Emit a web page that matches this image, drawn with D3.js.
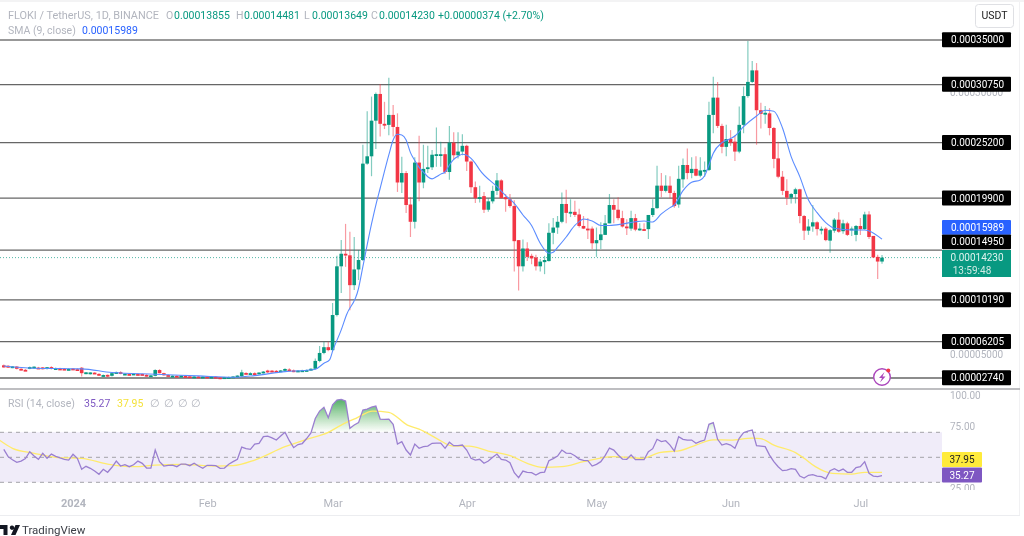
<!DOCTYPE html>
<html><head><meta charset="utf-8">
<style>
html,body{margin:0;padding:0;background:#fff;overflow:hidden}
svg{display:block;filter:blur(.35px)}
text{font-family:Roboto,"Liberation Sans",sans-serif}
</style>
<script src="https://cdn.jsdelivr.net/npm/d3@7/dist/d3.min.js"></script>
</head><body><svg id="c" width="1024" height="536"></svg>
<script>
// prices are in units of 0.00001
const opens=[3.95,3.9,3.72,3.83,3.62,3.52,3.62,3.68,3.73,3.75,
3.6,3.78,3.65,3.64,3.62,3.55,3.64,3.58,3.72,3.16,
3.15,3.25,3.13,2.95,3.04,2.95,3.18,3.3,3.13,3.12,
3.1,3.12,3.12,3.04,2.94,2.95,3.5,3.2,3.02,2.93,
2.95,2.86,2.93,2.9,2.86,2.88,2.83,2.87,2.82,2.86,
2.8,2.72,2.81,2.83,2.84,2.9,3.22,3.13,3.2,3.14,
3.2,3.45,3.44,3.42,3.38,3.45,3.55,3.47,3.42,3.45,
3.47,3.5,3.62,4.37,5.13,5.68,5.4,8.75,13.4,14.6,
14.45,11.6,13.1,14,23.2,23.9,27.3,29.85,27,26.9,
27.85,26.7,21.4,22.3,19.3,17.65,23.3,21.4,22.7,22.85,
24,24.05,24.1,22.4,25.2,24,24.35,24.9,23.4,20.95,
19.95,20.1,18.8,19.6,20.6,21.6,20,19.8,19.15,15.9,
13.4,15.1,14.4,14.25,13.4,13.8,13.9,16.6,17.1,17.65,
19.35,18.5,18.6,18.35,17.25,17,17,15.6,15.9,16.4,
17.5,19.25,18.8,18,17.2,17,18,16.95,16.95,16.95,
18.3,18.95,21.1,20.6,21.1,20.4,19.3,21.7,23.07,22.3,
22.7,22.05,22.55,22.6,27.85,29.5,26.8,24.8,25.55,25.3,
24.35,26.9,29.65,31,32.1,28.3,27.95,28,26.6,23.7,
21.95,20.6,19.95,20.3,20.75,18.2,16.8,17.2,17.6,16.95,
17,15.85,16.8,17.85,16.75,17.5,16.9,16.4,17.25,16.95,
18.35,16.3,14.3,13.855];
const highs=[4.02,3.98,3.88,3.88,3.68,3.6,3.84,3.86,3.8,3.8,
3.8,3.85,3.75,3.72,3.7,3.68,3.7,3.68,3.78,3.32,
3.3,3.3,3.2,3.08,3.08,3.26,3.35,3.38,3.2,3.2,
3.2,3.2,3.18,3.1,3.02,3.58,3.58,3.25,3.08,3,
3,3,2.98,2.96,2.92,2.92,2.9,2.92,2.9,2.9,
2.84,2.84,2.88,2.92,3,3.52,3.3,3.28,3.28,3.3,
3.42,3.52,3.5,3.5,3.5,3.66,3.66,3.56,3.5,3.52,
3.55,3.68,4.6,5.8,6.2,6.2,9.9,14.4,15.9,17.45,
16.7,16.2,14.96,25,28.2,29.6,30,30.8,29.1,31.4,
28.8,28,23.85,22.5,20,23.8,25.85,25,24.9,24.5,
26.65,25.3,24.75,26.8,26.2,26.2,26,25,23.5,21.5,
21.1,20.5,19.9,21.1,22.3,21.7,20.3,20.3,19.7,15.9,
15.95,15.7,14.6,14.5,14.1,14.4,17.5,18,18.2,20.45,
20.7,19.8,19.65,18.9,18.2,18,17.2,17.1,17.6,18.3,
20.3,19.8,20,18.7,17.9,18.7,18.4,17.5,17.5,18.3,
19.8,23,22.3,22.1,22,20.6,23,23.7,24.65,23.8,
23.9,23.8,23.4,29.1,31.5,31,27,26.9,26.4,25.9,
28.65,30.55,34.9,33,32.8,29,28.7,28.5,26.7,25.3,
22.5,21.7,20.4,20.9,20.8,18.3,17.9,19.25,17.7,17.2,
17.15,16.95,18,18.55,17.85,17.65,17.2,17.35,18,18.6,
18.65,16.3,14.5,14.481];
const lows=[3.72,3.7,3.68,3.55,3.45,3.45,3.58,3.64,3.6,3.56,
3.55,3.55,3.55,3.52,3.5,3.48,3.5,3.5,2.88,3.1,
3.08,3.12,2.93,2.85,2.82,2.88,3.12,3.1,3.05,3.02,
3.03,3.02,3,2.88,2.88,2.9,3.18,2.96,2.9,2.86,
2.86,2.82,2.84,2.8,2.8,2.78,2.78,2.78,2.76,2.76,
2.62,2.68,2.74,2.78,2.8,2.86,3.05,3.06,3.08,3.08,
3.16,3.22,3.3,3.28,3.36,3.4,3.38,3.3,3.36,3.38,
3.38,3.42,3.55,4.25,5,5.3,5.3,8.6,10.85,13.35,
9.2,11.15,12.1,13.9,23.1,22,24.6,25.8,26.5,25.9,
25.8,20.5,20.4,18.5,16.2,17,19.6,20.85,22.3,22.6,
22.9,22.9,22.2,21.65,23.6,23.7,24,22.5,20.4,19.45,
19.5,18.5,18.6,19.4,20.2,19.9,18.6,19,12.9,11.1,
12.9,13.9,13.6,13,12.9,12.65,13.85,15.5,16.5,17.5,
17.5,18.1,18.1,17.1,16.95,16,15.05,14.3,15.05,16.4,
17.5,17.5,17.8,17.1,16.4,16.8,16.75,16.8,16.8,16,
18.1,18.9,20,20.45,19.9,19,19,20.9,21.7,21.8,
22,21.9,21.95,22.5,26.1,26.6,24.2,23.9,24.9,23.45,
24.2,26.1,29.5,30.9,25,26.55,27,25.9,22.75,21.8,
20.2,19.25,19.4,19.4,17.5,15.9,16.4,16.7,16.35,16.45,
15.8,14.7,16.6,16.6,16.5,16.3,16.3,15.8,16.4,16.9,
16,14.2,12.2,13.649];
const closes=[3.75,3.75,3.85,3.62,3.52,3.5,3.78,3.82,3.63,3.58,
3.77,3.6,3.68,3.6,3.52,3.6,3.54,3.53,3.2,3.28,
3.27,3.2,2.97,3.02,2.9,3.2,3.3,3.14,3.15,3.1,
3.16,3.1,3.03,2.92,2.99,3.5,3.2,3,2.92,2.96,
2.91,2.97,2.9,2.86,2.88,2.83,2.87,2.82,2.86,2.8,
2.72,2.81,2.83,2.88,2.97,3.28,3.12,3.2,3.12,3.26,
3.35,3.28,3.35,3.33,3.46,3.6,3.45,3.35,3.45,3.47,
3.5,3.62,4.37,5.13,5.68,5.4,8.75,13.4,14.6,14.45,
11.6,13.1,14,23.2,23.9,27.3,29.85,27,26.9,27.85,
26.7,21.4,22.3,19.25,17.65,23.3,21.4,22.7,22.85,24.05,
24.1,24.1,22.4,25.2,24,24.35,24.9,23.4,20.95,19.9,
20,18.8,19.6,20.6,21.6,19.9,19.8,19.15,15.8,13.4,
15.1,14.3,14.15,13.4,13.85,14,16.6,17.1,17.65,19.35,
18.5,18.6,18.3,17.25,17,16.85,15.6,15.9,16.45,17.5,
19.25,18.8,18,17.2,17.05,18,16.9,17,16.9,18.3,
18.95,21.1,20.6,21.1,20.4,19.15,21.75,23.07,22.3,22.7,
22.05,22.55,22.6,27.85,29.5,26.8,24.8,25.55,25.2,24.35,
26.9,29.65,31,32.1,28.3,27.95,28.05,26.6,23.65,21.95,
20.6,19.95,20.3,20.75,18.2,16.8,17.2,17.6,16.95,16.98,
15.9,16.85,17.85,16.7,17.5,16.4,17,17.25,16.95,18.35,
16.2,14.25,13.855,14.23];

const smaIdx=[0,7,18,25,35,45,53,58,65,70,72,74,75.3,76.1,78,79.2,82,83,85,86,87,89,90,91,92,93,94,95,96,97,98,99,100,101,102,103,104,105,106,107,108,109,110,114,116,118,120,122,124,126,127,128,130,132,133,134,136,138,140,143,146,148,150,152,154,155,157,159,161,162,163,164,166,168,169,171,174,176,178,180,182,184,186,188,190,192,196,199,200,203];
const smaVal=[3.89,3.67,3.61,3.26,3.1,2.94,2.81,2.97,3.35,3.48,3.58,4.15,4.47,5.42,7.33,8.75,11.3,13.37,17.44,19.25,20.85,24.03,25.46,26,25.93,25.46,24.25,23.5,22.85,22.4,21.95,21.75,21.95,22.2,22.4,23.07,23.6,23.9,24.1,24,23.7,23.23,22.6,21,20.15,19.4,18.3,17.3,15.6,14.64,14.74,15.2,16.2,17.3,17.66,17.92,17.73,17.3,17.3,17.44,17.66,17.73,17.63,18.4,19,19.25,20.62,21.42,21.64,22.05,23.07,24.2,25.2,25.6,25.84,26.73,27.75,28.29,28.2,26.6,23.87,21.96,19.73,18.52,17.57,17.03,16.87,16.87,16.77,15.989];

const rsiVal=[56.4,50.5,48,46,47,49,54.5,51,48.4,53.2,49.2,52.6,50.8,49.5,48.4,47.8,52.4,49.2,40.4,42.8,41.2,39,36.4,40.4,38,42,47,43,44.1,42.5,44,47,45.2,41.4,41.4,55.8,46.5,43,43.5,43.8,42.5,44.6,44.6,43.3,45.2,43,41.2,43.6,43.6,43.3,41.2,41.4,44.5,46.5,48.4,58.2,57,56.4,60.6,61.1,66.5,67,65.5,63.8,67,70,63.3,57.7,60.2,61,65,69.5,81,87,90,81.7,92,95.8,96.4,95,73.2,75.8,77.7,87.8,88.6,90.2,91,80.6,80.4,80.6,76.4,60.6,62.5,55.8,51.8,60.6,57.2,58.5,59,61.2,61.4,61.4,57.2,62,59.3,59.3,59.8,55.8,49.2,47.8,48.4,45.2,47,50,52.6,48.4,47.8,45.7,37.7,33.7,39,38,37.7,35.8,37.7,38.2,47.3,48.9,51,55.8,53.4,53.2,51.3,48.6,47.6,47.3,43,44.4,46.5,51.3,57.4,55.8,51.8,48.6,48.4,51.8,48.1,48.1,48.1,54.5,56.9,64.4,62.5,63.3,59.8,55,66.5,64.4,63.8,63.8,61.2,62.8,63.8,76.4,77.7,64.4,59.8,60.9,59.8,57.2,65.2,69.7,71,71.8,59.3,59,58.5,51.8,46.5,42.5,39.3,39.8,40.9,40.4,35,33.4,35.6,36.1,35,34.5,32.8,39.3,40.9,39,40.6,38,38,41.7,42.5,46.5,37.2,35,34.5,35.27];
const rsiMaIdx=[-1,2,7,12,18,24,30,35,41,49,53,58,65,70,75,78,81.4,85.3,89,93.3,96,100,103.8,107.6,112,117,121,124.5,129,134,141,147.6,151.5,154.6,156,160,164,168,173,175,178,183,185,187.6,191.5,196,199,203];
const rsiMaVal=[63.7,57.2,53.2,50,49.2,44.6,42.5,43.8,44.4,43,43.3,47.8,58.5,64.4,70,75.8,81.2,87,86,75.8,72.6,65.2,59,59,55,51.3,45.2,42,42.5,46.5,50.5,49.2,53.7,54.8,55.1,59.8,64,63.8,65.4,64.9,59.8,53.7,49.2,42.5,37.2,36.6,38,37.95];

const levels=[35,30.75,25.2,19.9,14.95,10.19,6.205,2.74];
const levelText=["0.00035000","0.00030750","0.00025200","0.00019900","0.00014950","0.00010190","0.00006205","0.00002740"];
const levelLabelNudge=[0,0,0,0,-8,0,0,0];
const priceTicks=[30,5];
const priceTickText=["0.00030000","0.00005000"];
const rsiTicks=[100,75,25];
const rsiBands=[70,50,30];
const timeIdx=[16,47,76,107,137,168,198];
const timeText=["2024","Feb","Mar","Apr","May","Jun","Jul"];

const green="#089981",red="#f23645",blue="#5b8cff",purple="#7e57c2",yellow="#ffeb3b",grey="#b2b5be";
const plotR=942, axisR=1011;
const n=closes.length;
const x=d3.scaleLinear().domain([0,n-1]).range([3.8,882]);
const y=d3.scaleLinear().domain([2.74,35]).range([378,40]);
const r=d3.scaleLinear().domain([30,70]).range([482.3,432.3]);
const svg=d3.select("#c");

const defs=svg.append("defs");
defs.append("clipPath").attr("id","plot").append("rect").attr("x",0).attr("y",33).attr("width",plotR).attr("height",356);
defs.append("clipPath").attr("id","rsiPane").append("rect").attr("x",0).attr("y",390).attr("width",1020).attr("height",100);
defs.append("clipPath").attr("id","ob").append("rect").attr("x",0).attr("y",390).attr("width",plotR).attr("height",r(70)-390);
const grad=defs.append("linearGradient").attr("id","obGrad").attr("gradientUnits","userSpaceOnUse").attr("x1",0).attr("x2",0).attr("y1",r(100)).attr("y2",r(70));
grad.append("stop").attr("offset",0).attr("stop-color","#2e9e4a").attr("stop-opacity",.95);
grad.append("stop").attr("offset",1).attr("stop-color","#4caf50").attr("stop-opacity",0);

// frame
svg.append("rect").attr("x",0).attr("y",0).attr("width",1024).attr("height",2).attr("fill","#f3f3f4");
svg.append("line").attr("x1",0).attr("x2",1020).attr("y1",515.5).attr("y2",515.5).attr("stroke","#ecedf0");
svg.append("line").attr("x1",1019.5).attr("x2",1019.5).attr("y1",2).attr("y2",515).attr("stroke","#f1f1f3");
svg.append("line").attr("x1",0).attr("x2",1020).attr("y1",389).attr("y2",389).attr("stroke","#a8a8ad").attr("stroke-width",1.4);

// horizontal levels
svg.append("g").selectAll("line").data(levels).join("line")
 .attr("x1",0).attr("x2",plotR).attr("y1",d=>y(d)).attr("y2",d=>y(d))
 .attr("stroke",(d,i)=>i==0?"#333":"#666").attr("stroke-width",(d,i)=>i==0?1:1.3);

// last price dotted line
svg.append("line").attr("x1",0).attr("x2",plotR).attr("y1",y(closes[n-1])).attr("y2",y(closes[n-1]))
 .attr("stroke",green).attr("stroke-dasharray","1 2").attr("opacity",.7);

// candles
const idx=d3.range(n);
const cg=svg.append("g").attr("clip-path","url(#plot)");
// SMA under the flat-stretch candles
const smaLine=d3.line().x(d=>x(d[0])).y(d=>y(d[1])).curve(d3.curveMonotoneX);
cg.selectAll("line.w").data(idx).join("line").attr("class","w")
 .attr("x1",i=>x(i)).attr("x2",i=>x(i)).attr("y1",i=>y(highs[i])).attr("y2",i=>y(lows[i]))
 .attr("stroke",i=>closes[i]>=opens[i]?green:red).attr("stroke-width",1.2).attr("opacity",.5);
cg.selectAll("rect").data(idx).join("rect")
 .attr("x",i=>x(i)-1.8).attr("width",3.6)
 .attr("y",i=>y(Math.max(opens[i],closes[i])))
 .attr("height",i=>Math.max(1.8,Math.abs(y(opens[i])-y(closes[i]))))
 .attr("fill",i=>closes[i]>=opens[i]?green:red);

// SMA
svg.append("path").attr("clip-path","url(#plot)").datum(smaIdx.map((k,i)=>[k,smaVal[i]]))
 .attr("fill","none").attr("stroke",blue).attr("stroke-width",1.1).attr("d",smaLine);

// RSI pane
const rp=svg.append("g");
rp.append("rect").attr("x",0).attr("width",plotR).attr("y",r(70)).attr("height",r(30)-r(70)).attr("fill","#f0ecf9");
rp.selectAll("line").data(rsiBands).join("line").attr("x1",0).attr("x2",plotR)
 .attr("y1",d=>r(d)).attr("y2",d=>r(d)).attr("stroke","#a3a3a8").attr("stroke-dasharray","4 4").attr("stroke-width",1);
const rsiPts=rsiVal.map((v,i)=>[i,v]);
rp.append("path").datum(rsiPts).attr("clip-path","url(#ob)").attr("fill","url(#obGrad)")
 .attr("d",d3.area().x(d=>x(d[0])).y0(r(70)).y1(d=>r(d[1])));
rp.append("path").datum(rsiMaIdx.map((k,i)=>[k,rsiMaVal[i]])).attr("fill","none").attr("stroke","#ffeb6b").attr("stroke-width",1.3)
 .attr("d",d3.line().x(d=>x(d[0])).y(d=>r(d[1])).curve(d3.curveMonotoneX));
rp.append("path").datum(rsiPts).attr("fill","none").attr("stroke","#9a7fd0").attr("stroke-width",1.3)
 .attr("d",d3.line().x(d=>x(d[0])).y(d=>r(d[1])));

// axes (text only)
function clean(g){g.select(".domain").remove();g.selectAll(".tick line").remove();
 g.selectAll("text").attr("fill",grey).style("font-size","10px").style("font-family","Roboto");}
svg.append("g").attr("transform",`translate(${plotR},0)`)
 .call(d3.axisRight(y).tickValues(priceTicks).tickSize(0).tickPadding(8).tickFormat((d,i)=>priceTickText[i])).call(clean);
svg.append("g").attr("transform",`translate(${plotR},0)`).attr("clip-path","url(#rsiPane)")
 .call(d3.axisRight(r).tickValues(rsiTicks).tickSize(0).tickPadding(8).tickFormat(d=>d.toFixed(2))).call(clean);
svg.append("g").attr("transform","translate(0,496)")
 .call(d3.axisBottom(x).tickValues(timeIdx).tickSize(0).tickPadding(3).tickFormat((d,i)=>timeText[i])).call(clean)
 .selectAll("text").style("font-size","11px").attr("font-weight",(d,i)=>i==0?700:400);

// right-hand labels
function tag(yc,h,fill,txt,col,w){
 w=w||axisR-plotR;
 svg.append("rect").attr("x",plotR).attr("y",yc-h/2).attr("width",w).attr("height",h).attr("rx",1).attr("fill",fill);
 svg.append("text").attr("x",plotR+(w>50?w/2+1:w/2)).attr("y",yc+3.6).attr("text-anchor","middle").attr("fill",col).style("font-size","10px").text(txt);
}
levels.forEach((v,i)=>tag(y(v)+levelLabelNudge[i]-.3,15,"#000",levelText[i],"#fff"));
tag(y(15.989)-12,14.5,"#2962ff","0.00015989","#fff");
svg.append("rect").attr("x",plotR).attr("y",250).attr("width",axisR-plotR).attr("height",27).attr("fill",green);
svg.append("text").attr("x",plotR+35).attr("y",y(closes[n-1])+3.4).attr("text-anchor","middle").attr("fill","#dff3ee").style("font-size","10px").text("0.00014230");
svg.append("text").attr("x",plotR+30).attr("y",273.5).attr("text-anchor","middle").attr("fill","#cfeae4").style("font-size","10px").text("13:59:48");
tag(r(37.95)-12.9,15,yellow,"37.95","#222",40);
tag(r(35.27)-.7,15,purple,"35.27","#fff",40);

// legends
function t(xp,yp,s,col,fs){return svg.append("text").attr("x",xp).attr("y",yp).attr("fill",col).style("font-size",(fs||10.5)+"px").text(s);}
const lg="#b2b5be";
t(8,19,"FLOKI / TetherUS, 1D, BINANCE",lg,10.9);
[["O",166,"0.00013855"],["H",236,"0.00014481"],["L",304,"0.00013649"],["C",371,"0.00014230"]].forEach(a=>{
 t(a[1],19,a[0],lg); t(a[1]+8,19,a[2],green);
});
t(438,19,"+0.00000374 (+2.70%)",green);
t(8,34,"SMA (9, close)",lg);
t(82,34,"0.00015989","#2962ff");
t(8,407,"RSI (14, close)",lg);
t(84,407,"35.27",purple);
t(117,407,"37.95","#f4e23c");
[150,164,178,191].forEach(p=>t(p,407,"∅",lg));

// USDT button
svg.append("rect").attr("x",975.5).attr("y",4.5).attr("width",38).attr("height",23).attr("rx",3).attr("fill","#fff").attr("stroke","#dfe0e4");
svg.append("text").attr("x",994.5).attr("y",19).attr("text-anchor","middle").attr("fill","#222").style("font-size","10.5px").text("USDT");

// lightning badge
svg.append("circle").attr("cx",882).attr("cy",377).attr("r",8.3).attr("fill","#fff").attr("stroke","#ab47bc").attr("stroke-width",1.4);
svg.append("path").attr("d","M884.5 372 L879 378 L882 378 L880 382.5 L885.5 376.5 L882.5 376.5 Z").attr("fill","#ab47bc");
svg.append("circle").attr("cx",888.3).attr("cy",370.5).attr("r",2).attr("fill","#f23645");

// TradingView mark
svg.append("path").attr("d","M1 526 H8.5 V536 H4.5 V530 H1 Z M13 526.5 a2.2 2.2 0 1 1 -.01 0 Z M12 536 L16.5 526 H21 L16.5 536 Z").attr("transform","translate(-1,-1)").attr("fill","#131722");
svg.append("text").attr("x",22).attr("y",534).attr("fill","#3a3d45").style("font-size","11.5px").text("TradingView");
</script></body></html>
